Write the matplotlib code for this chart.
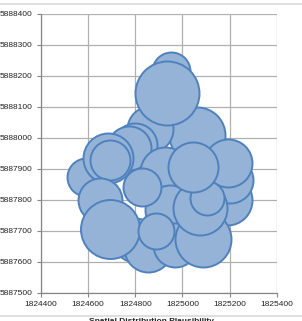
import matplotlib.pyplot as plt
from matplotlib.lines import Line2D

# bubble centres (easting, northing) and bubble sizes, back to front
east = [1824952, 1825062, 1824862, 1824799, 1824773, 1824591, 1824684, 1824693,
        1824926, 1824650, 1824947, 1825189, 1825202, 1825193, 1824799, 1824854,
        1824969, 1825087, 1825075, 1825104, 1825045, 1824935, 1824829, 1824693,
        1824888]
north = [5888216, 5888009, 5888029, 5887977, 5887967, 5887874, 5887935, 5887929,
         5887890, 5887799, 5887767, 5887799, 5887864, 5887919, 5887670, 5887644,
         5887654, 5887673, 5887773, 5887806, 5887906, 5888145, 5887841, 5887706,
         5887699]
size = [361, 784, 529, 484, 484, 361, 625, 400,
        625, 484, 625, 625, 529, 576, 484, 576,
        484, 784, 729, 289, 625, 1024, 361, 870,
        324]

xticks = [1824400, 1824600, 1824800, 1825000, 1825200, 1825400]
yticks = [5887500, 5887600, 5887700, 5887800, 5887900, 5888000, 5888100, 5888200, 5888300, 5888400]

plt.rcParams['font.family'] = ['Liberation Sans', 'DejaVu Sans']

fig = plt.figure(figsize=(3.02, 3.21), dpi=100)
ax = fig.add_axes([41 / 302, 1 - 292.7 / 321, 235.7 / 302, 278.7 / 321])

for x, y, s in zip(east, north, size):
    ax.scatter([x], [y], s=s * 2.0736, c='#95B3D7', edgecolors='#4F81BD',
               linewidths=1.4, zorder=3)

ax.set_xlim(1824400, 1825400)
ax.set_ylim(5887500, 5888400)
ax.set_xticks(xticks)
ax.set_yticks(yticks)
ax.set_xticklabels([str(t) for t in xticks])
ax.set_yticklabels([str(t) for t in yticks])
ax.tick_params(labelsize=6, colors='#868686', length=3, width=0.8, pad=3,
               labelcolor='#222222')
ax.grid(True, color='#B0B0B0', linewidth=0.9, zorder=0)
ax.set_axisbelow(True)
for side in ['top', 'right']:
    ax.spines[side].set_visible(False)
for side in ['left', 'bottom']:
    ax.spines[side].set_color('#868686')
    ax.spines[side].set_linewidth(0.9)

fig.add_artist(Line2D([0, 1], [1 - 4 / 321, 1 - 4 / 321], color='#D9D9D9', linewidth=1.2))
fig.add_artist(Line2D([0, 1], [1 - 316 / 321, 1 - 316 / 321], color='#D9D9D9', linewidth=1.2))
fig.text(0.5, 3 / 321, 'Spatial Distribution Plausibility', ha='center', va='top',
         fontsize=6, fontweight='bold', color='#222222')

fig.savefig('out.png', dpi=100)
